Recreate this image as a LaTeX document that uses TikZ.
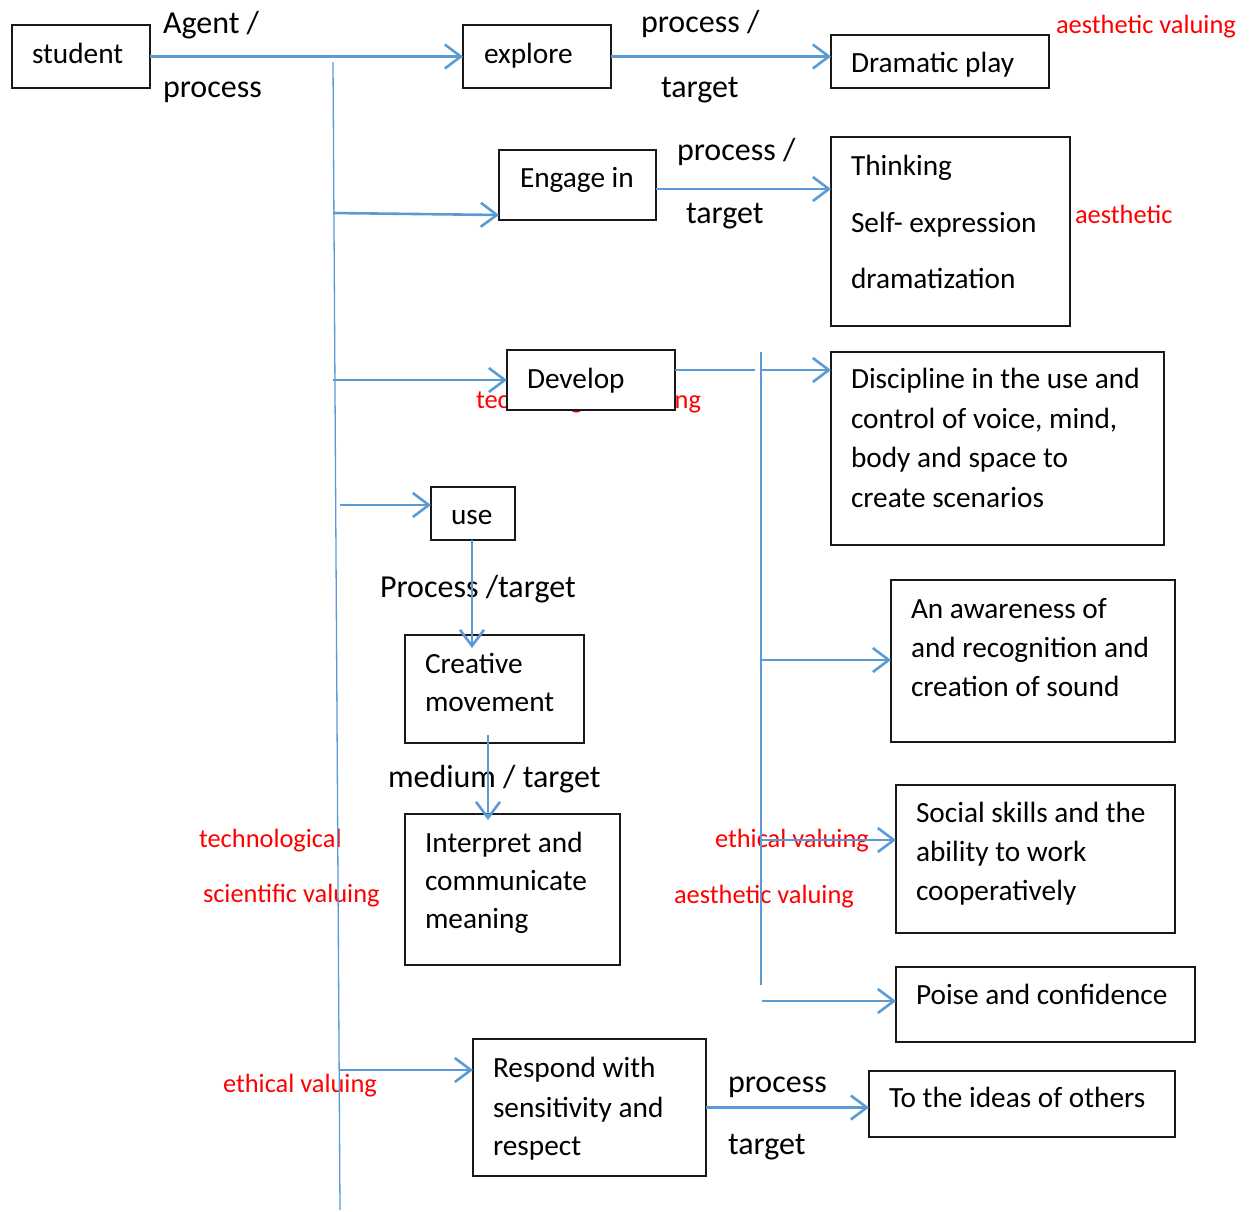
\documentclass[tikz,border=0pt]{standalone}
\usepackage{fontspec}
\setmainfont{Carlito}
\usetikzlibrary{arrows.meta}
\definecolor{lblue}{HTML}{5B9BD5}
\definecolor{vred}{HTML}{FF0000}
\newcommand\blkfont{\fontsize{29.3}{35}\selectfont}
\newcommand\conFont{\fontsize{32}{38}\selectfont}
\newcommand\redfont{\fontsize{26.4}{32}\selectfont}
\begin{document}
\begin{tikzpicture}[x=1pt,y=-1pt,
  lbl/.style={anchor=base west, inner sep=0pt, outer sep=0pt, font=\blkfont, text=black},
  clbl/.style={anchor=base west, inner sep=0pt, outer sep=0pt, font=\conFont, text=black},
  rlbl/.style={anchor=base west, inner sep=0pt, outer sep=0pt, font=\redfont, text=vred},
  box/.style={draw=black!90, line width=1.4pt, fill=white, anchor=north west, inner sep=0pt, outer sep=0pt},
  arr/.style={draw=lblue, line width=2.6pt, -{Straight Barb[length=16pt,width=24pt]}},
  thinline/.style={draw=lblue, line width=1.3pt}]
\useasboundingbox (0,0) rectangle (1251,1211);

% red labels (drawn first so the Develop box can cover one)
\node[rlbl] (rv1) at (1056,33) {aesthetic valuing};
\node[rlbl] (rv2) at (1075,223) {aesthetic};
\node[rlbl] (rv3) at (476,408) {technological valuing};
\node[rlbl] (rv4) at (199,847) {technological};
\node[rlbl] (rv5) at (203,902) {scientific valuing};
\node[rlbl] (rv6) at (715,847) {ethical valuing};
\node[rlbl] (rv7) at (674,903) {aesthetic valuing};
\node[rlbl] (rv8) at (223,1092) {ethical valuing};

% boxes
\node[box, minimum width=138pt, minimum height=63pt] (student) at (12,25) {};
\node[box, minimum width=148pt, minimum height=63pt] (explore) at (463,25) {};
\node[box, minimum width=218pt, minimum height=53pt] (drama) at (831,35) {};
\node[box, minimum width=157pt, minimum height=70pt] (engage) at (499,150) {};
\node[box, minimum width=239pt, minimum height=189pt] (think) at (831,137) {};
\node[box, minimum width=168pt, minimum height=60pt] (develop) at (507,350) {};
\node[box, minimum width=333pt, minimum height=193pt] (disc) at (831,352) {};
\node[box, minimum width=84pt, minimum height=53pt] (use) at (431,487) {};
\node[box, minimum width=179pt, minimum height=108pt] (creat) at (405,635) {};
\node[box, minimum width=215pt, minimum height=151pt] (interp) at (405,814) {};
\node[box, minimum width=284pt, minimum height=162pt] (aware) at (891,580) {};
\node[box, minimum width=279pt, minimum height=148pt] (social) at (896,785) {};
\node[box, minimum width=299pt, minimum height=75pt] (poise) at (896,967) {};
\node[box, minimum width=233pt, minimum height=137pt] (resp) at (473,1039) {};
\node[box, minimum width=306pt, minimum height=66pt] (ideas) at (869,1071) {};

% box texts
\node[lbl] (t-student) at (32,63) {student};
\node[lbl] (t-explore) at (484,63) {explore};
\node[lbl] (t-drama) at (851,72) {Dramatic play};
\node[lbl] (t-engage) at (520,187) {Engage in};
\node[lbl] (t-think1) at (851,175) {Thinking};
\node[lbl] (t-think2) at (851,232) {Self- expression};
\node[lbl] (t-think3) at (851,288) {dramatization};
\node[lbl] (t-develop) at (527,388) {Develop};
\node[lbl] (t-disc1) at (851,388) {Discipline in the use and};
\node[lbl] (t-disc2) at (851,428) {control of voice, mind,};
\node[lbl] (t-disc3) at (851,467) {body and space to};
\node[lbl] (t-disc4) at (851,507) {create scenarios};
\node[lbl] (t-use) at (451,524) {use};
\node[lbl] (t-creat1) at (425,673) {Creative};
\node[lbl] (t-creat2) at (425,711) {movement};
\node[lbl] (t-interp1) at (425,852) {Interpret and};
\node[lbl] (t-interp2) at (425,890) {communicate};
\node[lbl] (t-interp3) at (425,928) {meaning};
\node[lbl] (t-aware1) at (911,618) {An awareness of};
\node[lbl] (t-aware2) at (911,657) {and recognition and};
\node[lbl] (t-aware3) at (911,696) {creation of sound};
\node[lbl] (t-social1) at (916,822) {Social skills and the};
\node[lbl] (t-social2) at (916,861) {ability to work};
\node[lbl] (t-social3) at (916,900) {cooperatively};
\node[lbl] (t-poise) at (916,1004) {Poise and confidence};
\node[lbl] (t-resp1) at (493,1077) {Respond with};
\node[lbl] (t-resp2) at (493,1117) {sensitivity and};
\node[lbl] (t-resp3) at (493,1155) {respect};
\node[lbl] (t-ideas) at (889,1107) {To the ideas of others};

% connector labels
\node[clbl] (l1) at (163,33) {Agent /};
\node[clbl] (l2) at (163,97) {process};
\node[clbl] (l3) at (641,32) {process /};
\node[clbl] (l4) at (661,97) {target};
\node[clbl] (l5) at (677,160) {process /};
\node[clbl] (l6) at (686,223) {target};
\node[clbl] (l7) at (380,597) {Process /target};
\node[clbl] (l8) at (388,787) {medium / target};
\node[clbl] (l9) at (728,1092) {process};
\node[clbl] (l10) at (728,1154) {target};

% branch points
\coordinate (vtop) at (333,62);
\coordinate (vbot) at (340,1210);
\coordinate (b1) at (333,213);
\coordinate (b2) at (333,380);
\coordinate (b3) at (340,505);
\coordinate (b4) at (340,1070);
\coordinate (dv1) at (755,370);
\coordinate (rtop) at (761,352);
\coordinate (rbot) at (761,985);
\coordinate (d1) at (761,370);
\coordinate (d2) at (761,660);
\coordinate (d3) at (761,840);
\coordinate (d4) at (762,1001);
\coordinate (c1) at (488,735);

% connectors
\draw[arr] (student.east) -- (explore.west);
\draw[arr] (explore.east) -- (explore.east -| drama.west);
\draw[thinline] (vtop) -- (vbot);
\draw[arr] (b1) -- ([yshift=5pt]engage.south west);
\draw[arr] (b2) -- (develop.west);
\draw[arr] (b3) -- ([yshift=8.5pt]use.west);
\draw[arr] (b4) -- (b4 -| resp.west);
\draw[arr] ([yshift=-4pt]engage.east) -- ([yshift=-4pt]engage.east -| think.west);
\draw[thinline] ([yshift=10pt]develop.east) -- (dv1);
\draw[thinline] (rtop) -- (rbot);
\draw[arr] (d1) -- (d1 -| disc.west);
\draw[arr] (d2) -- (d2 -| aware.west);
\draw[arr] (d3) -- (d3 -| social.west);
\draw[arr] (d4) -- (d4 -| poise.west);
\draw[arr] ([xshift=-1pt]use.south) -- ([xshift=-1pt,yshift=-13pt]use.south |- creat.north);
\draw[arr] (c1) -- ([yshift=-6pt]c1 |- interp.north);
\draw[arr] (resp.east) -- (resp.east -| ideas.west);
\end{tikzpicture}
\end{document}
